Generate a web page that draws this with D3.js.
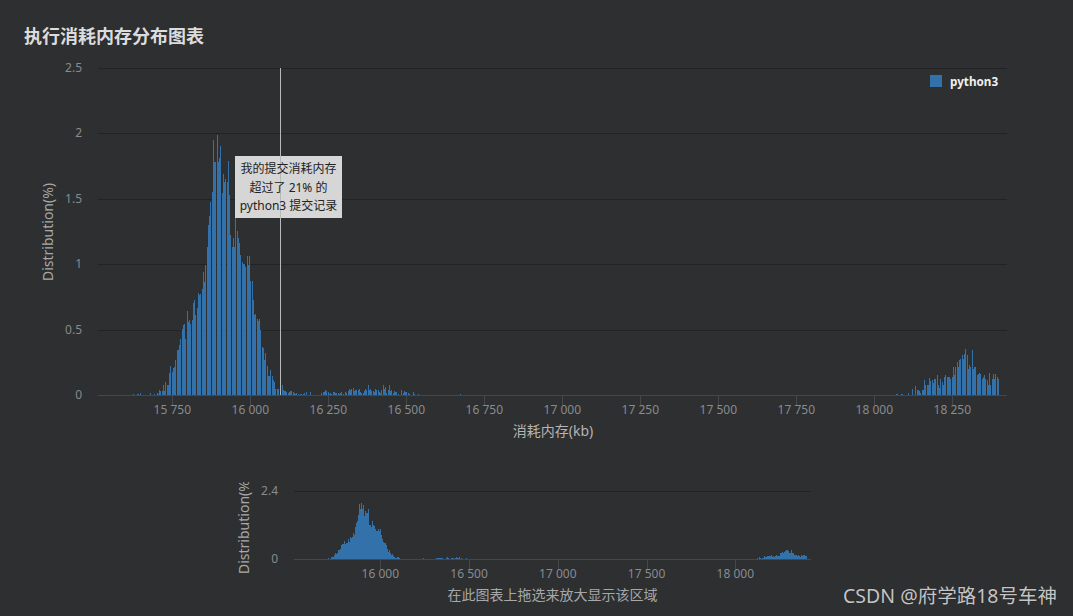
<!DOCTYPE html>
<html><head><meta charset="utf-8">
<script src="https://cdn.jsdelivr.net/npm/d3@7/dist/d3.min.js"></script>
<style>
html,body{margin:0;padding:0;background:#2d2f31;overflow:hidden}
svg{display:block}
text{font-family:"Noto Sans","Noto Sans CJK SC",sans-serif}
</style></head><body>
<svg id="c" width="1073" height="616"></svg>
<script>
const chartTitle="执行消耗内存分布图表";
const seriesName="python3";
const binSize=4;
const segmentAStart=15624;
const segmentA=[.008,0,0,.008,.008,0,.02,0,0,0,0,0,0,0,.02,0,.005,.008,.005,.015,.01,.043,.033,.03,.076,.036,.10,.08,.076,.168,.224,.178,.209,.216,.267,.344,.344,.382,.433,.509,.534,.547,.433,.641,.56,.573,.547,.573,.707,.725,.611,.662,.784,.763,.776,.814,.941,.865,.992,1.132,1.298,1.369,1.476,1.552,1.95,1.78,1.78,1.987,1.78,1.81,1.90,1.54,1.69,1.63,1.65,1.63,1.79,1.53,1.22,1.13,1.2,1.13,1.35,1.25,1.2,1.16,1.07,1.02,1.0,1.0,.98,1.06,.99,1.06,.87,.87,.73,.61,.62,.585,.57,.585,.5,.37,.36,.27,.32,.22,.15,.15,.19,.15,.115,.10,.05,.05,.05];
const segmentBStart=16096;
const segmentB=[.076,.076,.038,.03,.03,.025,.02,.025,.03,.03,.025,.02,.008,.02,.008,0,.008,.008,.008,.02,0,.025,0,0,.025,0,0,0,0,0,0,0,0,.015,.025,.025,.038,.03,.025,.008,.02,.008,.025,.025,.02,.02,.02,.008,.02,.025,.008,0,.025,.02,.03,.046,.038,.05,.056,.03,.038,.038,.038,.046,.025,.02,.02,.03,.046,.038,.076,.038,.05,.03,.03,.025,.05,.038,.038,.025,.02,.038,.076,.05,.06,.02,.038,.076,.03,.038,.02,.03,.025,.025,.008,0,0,.038,.02,.03,.025,.025,.02,.008,0,0,.025,.008,0,0,.008];
const segmentCStart=16672;
const segmentC=[.008];
const segmentDStart=18068;
const segmentD=[.008,.008,0,0,.008,.008,0,0,0,0,.02,0,0,.046,0,0,.071,.038,.038,.03,.02,.038,.038,.115,.081,.081,.076,.132,.107,.115,.097,.127,.127,.153,.076,.056,.122,.102,.076,.14,.153,.14,.14,.14,.127,.14,.216,.153,.216,.254,.216,.267,.28,.305,.28,.318,.351,.305,.198,.229,.216,.344,.204,.216,.216,.153,.165,.173,.165,.127,.14,.153,.127,.115,.076,.173,.076,.127,.165,.127,.165,.14,.127];
const mainYTicks=[0,.5,1,1.5,2,2.5];
const mainXTicks=[15750,16000,16250,16500,16750,17000,17250,17500,17750,18000,18250];
const navYTicks=[0,2.4];
const navXTicks=[16000,16500,17000,17500,18000];
const marker=16095;
const tipLines=["我的提交消耗内存","超过了 21% 的","python3 提交记录"];

const data=[[segmentAStart,segmentA],[segmentBStart,segmentB],[segmentCStart,segmentC],[segmentDStart,segmentD]]
  .flatMap(([s,a])=>a.map((v,i)=>({k:s+i*binSize,v})));

const svg=d3.select("#c");
const BLUE="#3371aa",GRID="#222325",AXIS="#45474a",TICK="#888b8f";
const fmtS=d=>String(d).slice(0,-3)+" "+String(d).slice(-3);

const x=d3.scaleLinear().domain([15750,18250]).range([172.3,952.3]);
const y=d3.scaleLinear().domain([0,2.5]).range([395.3,67.5]);
const L=98,R=1007;
function panel(g,xs,ys,yt,xt,left,right,tickLen,opts){
  g.append("g").selectAll("line").data(yt.filter(d=>d>0)).join("line")
    .attr("x1",left).attr("x2",right).attr("y1",d=>Math.round(ys(d))+.5).attr("y2",d=>Math.round(ys(d))+.5)
    .attr("stroke",GRID);
  const h=d=>opts.floorHeight?Math.floor(ys(0)-ys(d.v)):ys(0)-ys(d.v);
  g.append("g").attr("shape-rendering","crispEdges").selectAll("rect").data(data.filter(d=>d.v>0)).join("rect")
    .attr("x",d=>Math.round(xs(d.k)))
    .attr("width",1)
    .attr("y",d=>ys(0)-h(d))
    .attr("height",h)
    .attr("fill",BLUE);
  const b=Math.round(ys(0))+.5;
  g.append("line").attr("x1",left).attr("x2",right).attr("y1",b).attr("y2",b).attr("stroke",AXIS);
  g.append("g").selectAll("line").data(xt).join("line")
    .attr("x1",d=>Math.round(xs(d))+.5).attr("x2",d=>Math.round(xs(d))+.5)
    .attr("y1",b).attr("y2",b+tickLen).attr("stroke",AXIS);
  g.append("g").selectAll("text").data(xt).join("text")
    .attr("x",d=>xs(d)).attr("y",b+18.5).attr("text-anchor","middle")
    .attr("font-size",12).attr("fill",TICK).text(fmtS);
  g.append("g").selectAll("text").data(yt).join("text")
    .attr("x",left-16).attr("y",d=>ys(d)+4).attr("text-anchor","end")
    .attr("font-size",12).attr("fill",TICK).text(d=>d);
}
panel(svg.append("g"),x,y,mainYTicks,mainXTicks,L,R,10,{floorHeight:false});

const nx=d3.scaleLinear().domain([16000,18000]).range([380.3,735.3]);
const ny=d3.scaleLinear().domain([0,2.4]).range([559.3,491]);
panel(svg.append("g"),nx,ny,navYTicks,navXTicks,294,811,10,{floorHeight:true});

svg.append("text").attr("x",24).attr("y",43).attr("font-size",18).attr("font-weight",700)
  .attr("fill","#dcdcdc").attr("font-family","'Noto Sans CJK SC'").text(chartTitle);
svg.append("text").attr("transform","translate(53,232) rotate(-90)").attr("text-anchor","middle")
  .attr("font-size",14).attr("fill","#a8a8a8").text("Distribution(%)");
svg.append("text").attr("x",553).attr("y",436).attr("text-anchor","middle")
  .attr("font-size",14).attr("fill","#b4b4b4").text("消耗内存(kb)");
svg.append("clipPath").attr("id","nc").append("rect").attr("x",230).attr("y",482).attr("width",30).attr("height",110);
svg.append("g").attr("clip-path","url(#nc)").append("text")
  .attr("transform","translate(249,574) rotate(-90)").attr("text-anchor","start")
  .attr("font-size",14).attr("fill","#a8a8a8").text("Distribution(%)");
svg.append("text").attr("x",552.5).attr("y",600).attr("text-anchor","middle")
  .attr("font-size",14).attr("fill","#a8a8a8").text("在此图表上拖选来放大显示该区域");

svg.append("rect").attr("x",930).attr("y",75).attr("width",12).attr("height",12).attr("fill",BLUE);
svg.append("text").attr("x",950).attr("y",86).attr("font-size",11.7).attr("font-weight",700).attr("fill","#f0f0f0").text(seriesName);

const tx=Math.round(x(marker))+.5;
svg.append("rect").attr("x",235).attr("y",156).attr("width",107).attr("height",62).attr("fill","#d6d6d6");
svg.append("line").attr("x1",tx).attr("x2",tx).attr("y1",68).attr("y2",395).attr("stroke","#b8b8b8");
svg.append("g").selectAll("text").data(tipLines).join("text")
  .attr("x",288.5).attr("y",(d,i)=>173+i*18.5).attr("text-anchor","middle")
  .attr("font-size",12).attr("fill","#222").text(d=>d);

svg.append("text").attr("x",1057).attr("y",603).attr("text-anchor","end").attr("font-size",19.5)
  .attr("fill","#c4c4c4").attr("style","paint-order:stroke").attr("stroke","#222").attr("stroke-width",0.6)
  .text("CSDN @府学路18号车神");
</script>
</body></html>
